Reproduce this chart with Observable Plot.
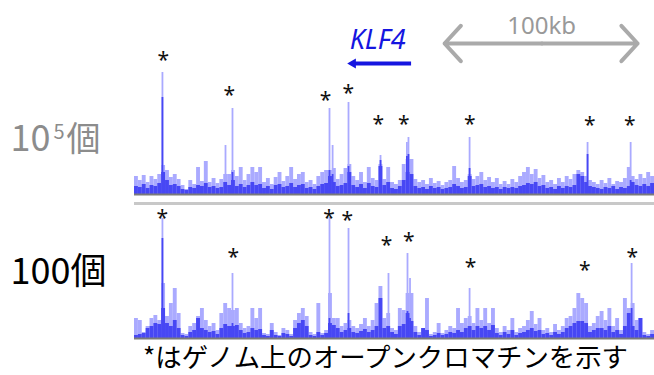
<!DOCTYPE html>
<html><head><meta charset="utf-8">
<script src="https://cdn.jsdelivr.net/npm/d3@7"></script>
<script src="https://cdn.jsdelivr.net/npm/@observablehq/plot@0.6"></script>
<style>
body{margin:0;background:#fff;}
#wrap{position:relative;width:654px;height:375px;overflow:hidden;}
#cap{position:absolute;left:143px;top:340px;font-family:"Noto Sans CJK JP",sans-serif;font-size:26.4px;line-height:32px;white-space:nowrap;color:#000;}
</style></head><body>
<div id="wrap"><div id="chart"></div><div id="cap"></div></div>
<script>
// ---- data ----
const tracks = ["10^5", "100"];
const binKb = 2; // genomic bin width (kb), 134 bins over 268 kb

const topLight = [
  18,14,19,12,18,15,20,29,24,17,
  20,15,9,5,14,10,27,13,33,12,
  16,11,15,20,20,24,18,27,14,20,
  27,22,27,12,16,10,17,22,13,18,
  27,15,20,22,12,14,10,18,22,24,
  24,26,15,20,26,30,18,14,22,12,
  27,16,14,30,15,27,12,10,14,30,
  35,35,15,12,14,10,16,11,13,9,
  12,14,28,16,12,14,20,15,18,22,
  14,17,12,16,10,13,10,15,12,18,
  22,27,20,25,16,19,12,14,10,16,
  12,18,15,20,24,22,18,14,12,10,
  14,11,16,10,13,12,16,27,18,15,
  20,16,22,18];
const topDark = [
  8,7,10,6,9,8,11,22,14,9,
  10,8,5,4,7,6,9,8,11,7,
  8,6,7,12,9,14,8,10,7,9,
  12,9,10,6,8,5,9,10,7,8,
  11,7,9,10,6,7,5,8,10,11,
  18,12,8,9,11,22,9,7,10,6,
  11,8,7,28,9,12,6,5,8,14,
  22,20,8,6,7,5,8,6,7,5,
  6,7,10,8,6,7,18,8,9,10,
  7,8,6,7,5,7,6,7,6,8,
  9,11,10,12,8,9,6,7,5,8,
  6,8,7,9,20,18,12,8,7,6,
  5,7,6,8,5,7,6,8,12,9,
  8,10,8,11];
const bottomLight = [
  20,18,6,12,20,23,18,55,22,35,
  50,25,5,4,12,15,22,30,18,12,
  15,8,25,35,30,28,30,15,10,12,
  30,20,30,5,4,15,6,3,10,8,
  4,18,25,30,22,6,4,35,5,8,
  45,20,20,12,15,18,12,10,14,20,
  12,18,35,52,20,25,10,8,30,28,
  45,45,12,6,10,40,4,6,15,5,
  8,12,10,30,15,20,22,15,30,18,
  30,15,30,10,6,12,8,20,6,10,
  12,18,27,14,20,8,10,6,14,8,
  12,20,22,30,45,40,35,12,15,22,
  27,18,30,12,20,8,40,30,35,18,
  20,6,4,8];
const bottomDark = [
  3,4,5,10,12,15,14,30,15,12,
  18,10,3,2,6,8,20,10,8,6,
  7,4,10,14,12,12,13,8,5,6,
  10,8,9,3,2,8,3,2,5,4,
  2,10,15,18,12,3,2,6,3,5,
  15,13,10,6,8,10,6,5,7,9,
  6,8,12,40,10,12,6,4,12,14,
  25,17,6,3,10,8,2,3,5,3,
  4,6,5,8,6,10,12,8,12,10,
  12,8,13,5,3,6,4,8,3,5,
  6,8,10,7,8,4,5,3,6,4,
  6,10,12,15,17,17,15,6,8,10,
  10,8,12,6,8,4,12,25,12,8,
  20,3,2,4];

// narrow peaks (kb position, max signal, mean signal)
const topPeakKb    = [14.4, 46.9, 50.5, 100.5, 102.1, 110.3, 126.8, 140.4, 141.2, 172.7, 233.5, 255.7];
const topPeakLight = [122, 49, 86, 86, 49, 92, 39, 52, 57, 57, 52, 52];
const topPeakDark  = [97, 12, 22, 24, 20, 28, 34, 38, 40, 26, 40, 14];
const botPeakKb    = [14.4, 50.5, 100.5, 110.3, 130.9, 140.7, 142.0, 172.7, 256.2];
const botPeakLight = [120, 65, 121, 110, 65, 85, 60, 50, 75];
const botPeakDark  = [100, 15, 20, 25, 12, 27, 20, 12, 30];

// open-chromatin asterisks (kb position, signal height)
const topStarKb = [14.8, 48.9, 98.5, 110.2, 125.6, 138.8, 172.8, 234.7, 255.3];
const topStarY  = [139, 104.7, 99, 106.3, 75.7, 75, 75.7, 74, 74];
const botStarKb = [14.3, 50.9, 100.2, 109.6, 129.9, 141.4, 173.2, 232.1, 256.5];
const botStarY  = [125.7, 86.3, 125.7, 123, 98, 102, 76.3, 73.7, 86.3];

const geneName = "KLF4";
const scaleLabel = "100kb";
const caption = "*はゲノム上のオープンクロマチンを示す";

// ---- build tables ----
const bins = [];
[[topLight, topDark, tracks[0]], [bottomLight, bottomDark, tracks[1]]].forEach(([L, D, t]) => {
  L.forEach((v, i) => bins.push({track: t, x1: i * binKb, x2: (i + 1) * binKb, light: v, dark: D[i]}));
});
const peaks = [];
topPeakKb.forEach((k, i) => peaks.push({track: tracks[0], kb: k, light: topPeakLight[i], dark: topPeakDark[i]}));
botPeakKb.forEach((k, i) => peaks.push({track: tracks[1], kb: k, light: botPeakLight[i], dark: botPeakDark[i]}));
const stars = [];
topStarKb.forEach((k, i) => stars.push({track: tracks[0], kb: k, y: topStarY[i]}));
botStarKb.forEach((k, i) => stars.push({track: tracks[1], kb: k, y: botStarY[i]}));

const LIGHT = "#aaaaff", DARK = "#4747f4";
const T0 = [{track: tracks[0]}], T1 = [{track: tracks[1]}];
const cjk = "Noto Sans CJK JP, sans-serif";

const chart = Plot.plot({
  width: 654, height: 342,
  marginLeft: 134, marginRight: 0, marginTop: 60, marginBottom: 4,
  x: {domain: [0, 268], axis: null},
  y: {domain: [0, 134], axis: null},
  fy: {domain: tracks, axis: null, paddingInner: 10 / 144, paddingOuter: 0},
  style: {fontFamily: "Noto Sans, sans-serif", overflow: "visible", background: "#fff"},
  marks: [
    Plot.rectY(bins, {fy: "track", x1: "x1", x2: "x2", y: "light", fill: LIGHT}),
    Plot.ruleX(peaks, {fy: "track", x: "kb", y1: 0, y2: "light", stroke: LIGHT, strokeWidth: 1.8}),
    Plot.rectY(bins, {fy: "track", x1: "x1", x2: "x2", y: "dark", fill: DARK}),
    Plot.ruleX(peaks, {fy: "track", x: "kb", y1: 0, y2: "dark", stroke: DARK, strokeWidth: 1.8}),
    Plot.ruleY([0], {stroke: "#7a7a7a", strokeWidth: 2}),
    Plot.ruleY(T1, {fy: "track", y: () => 135, stroke: "#c8c8c8", strokeWidth: 3}),
    Plot.text(stars, {fy: "track", x: "kb", y: "y", text: () => "*", fontSize: 21, dy: 5, fill: "#111"}),
    // gene annotation
    Plot.text(T0, {fy: "track", x: () => 125.3, y: () => 146, text: () => geneName, fontSize: 27, fontStyle: "italic", fill: "#1515e0", lineAnchor: "bottom"}),
    Plot.ruleY(T0, {fy: "track", y: () => 131, x1: () => 113.5, x2: () => 142.8, stroke: "#1515e0", strokeWidth: 4}),
    Plot.dot(T0, {fy: "track", x: () => 112.6, y: () => 131, symbol: "triangle2", r: 4.8, rotate: -90, fill: "#1515e0", stroke: "none"}),
    // scale bar
    Plot.text(T0, {fy: "track", x: () => 209.8, y: () => 161, text: () => scaleLabel, fontSize: 24, fill: "#999", lineAnchor: "bottom"}),
    Plot.arrow(T0, {fy: "track", x1: () => 210, y1: () => 151, x2: () => 159.8, y2: () => 151, stroke: "#aaa", strokeWidth: 4, headLength: 9, headAngle: 95}),
    Plot.arrow(T0, {fy: "track", x1: () => 210, y1: () => 151, x2: () => 259.3, y2: () => 151, stroke: "#aaa", strokeWidth: 4, headLength: 9, headAngle: 95}),
    // track labels
    Plot.text(T0, {fy: "track", x: () => -63.9, y: () => 43.5, text: () => "10", fontSize: 36, fontFamily: cjk, fill: "#8c8c8c", textAnchor: "start", lineAnchor: "bottom"}),
    Plot.text(T0, {fy: "track", x: () => -41.8, y: () => 56, text: () => "5", fontSize: 20, fontFamily: cjk, fill: "#8c8c8c", textAnchor: "start", lineAnchor: "bottom"}),
    Plot.text(T0, {fy: "track", x: () => -35.1, y: () => 43.5, text: () => "個", fontSize: 34, fontFamily: cjk, fill: "#8c8c8c", textAnchor: "start", lineAnchor: "bottom"}),
    Plot.text(T1, {fy: "track", x: () => -63.9, y: () => 55, text: () => "100個", fontSize: 36, fontFamily: cjk, fill: "#000", textAnchor: "start", lineAnchor: "bottom"})
  ]
});
document.getElementById("chart").appendChild(chart);
document.getElementById("cap").textContent = caption;
</script>
</body></html>
